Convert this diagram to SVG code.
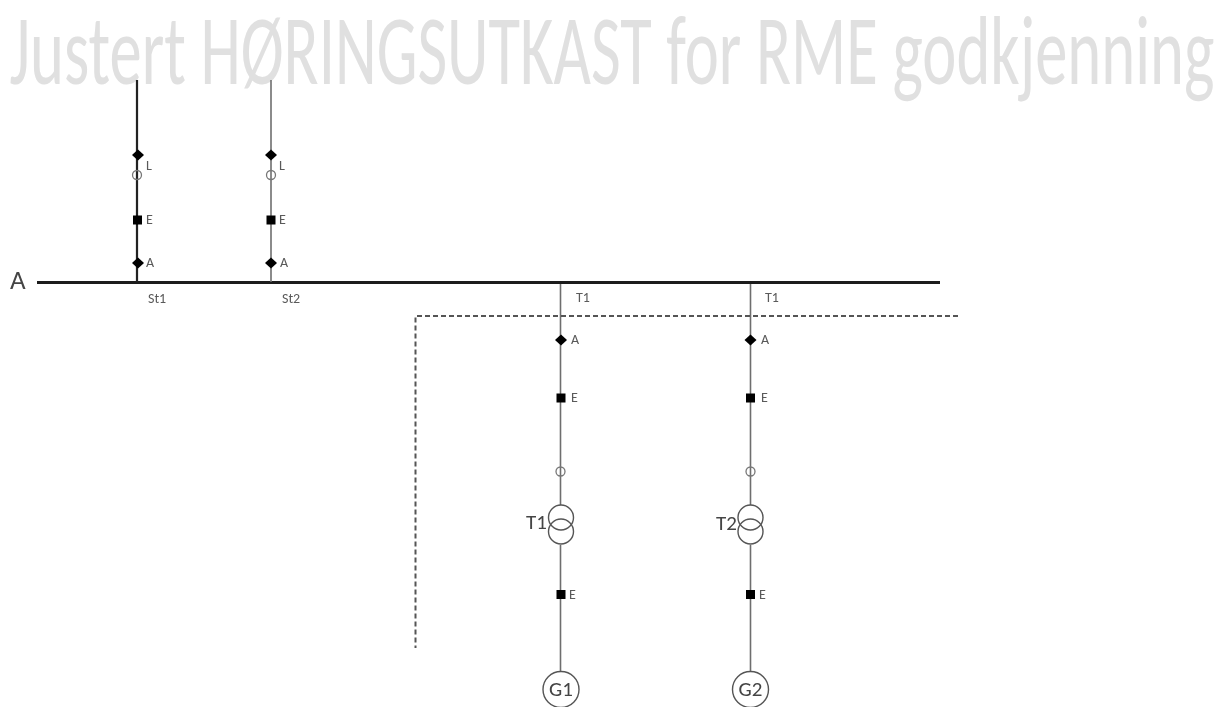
<svg xmlns="http://www.w3.org/2000/svg" width="1215" height="707" viewBox="0 0 1215 707">
<defs>
<style>
text{font-family:"Carlito","Open Sans","Noto Sans",sans-serif;fill:#5a5a5a}
.s{font-size:14px}
.m{font-size:21px;fill:#444}
.b{font-size:27px;fill:#444}
.w{font-size:98px;fill:#e0e0e0}
.l{fill:none;stroke:#6e6e6e;stroke-width:1.6}
.ld{fill:none;stroke:#222;stroke-width:2.2}
.o{fill:none;stroke:#777;stroke-width:1.3}
.t{fill:none;stroke:#555;stroke-width:1.4}
.k{fill:#000}
</style>
<filter id="soft" x="-2%" y="-2%" width="104%" height="104%"><feGaussianBlur stdDeviation="0.55"/></filter>
<path id="d" class="k" d="M-6 0L0-5.500L6 0L0 5.500Z"/>
<rect id="q" class="k" x="-4.500" y="-4.500" width="9" height="9"/>
</defs>
<rect width="1215" height="707" fill="#fff"/>
<text id="watermark" class="w" transform="translate(9.500 84) scale(.657 1)" textLength="1834" lengthAdjust="spacingAndGlyphs">Justert HØRINGSUTKAST for RME godkjenning</text>
<g filter="url(#soft)">
<g id="connectors">
<path d="M37 282.500H940" fill="none" stroke="#1e1e1e" stroke-width="3"/>
<path class="ld" d="M137 80V282"/>
<path class="l" d="M271 80V282"/>
<path class="l" d="M560.500 284V505M560.500 545V672"/>
<path class="l" d="M750.500 284V505M750.500 545V672"/>
<path fill="none" stroke="#555" stroke-width="2" stroke-dasharray="5 3" d="M958 316H415.500V648"/>
</g>
<g id="St1">
<use href="#d" x="138" y="155"/><circle class="o" cx="137" cy="175" r="4.500"/>
<use href="#q" x="137.500" y="220"/><use href="#d" x="138" y="263"/>
<text class="s" x="146" y="170">L</text><text class="s" x="146" y="224">E</text><text class="s" x="146" y="267">A</text>
<text class="s" x="148" y="303">St1</text>
</g>
<g id="St2">
<use href="#d" x="271" y="155"/><circle class="o" cx="271" cy="175" r="4.500"/>
<use href="#q" x="271" y="220"/><use href="#d" x="271" y="263"/>
<text class="s" x="279" y="170">L</text><text class="s" x="279" y="224">E</text><text class="s" x="280" y="267">A</text>
<text class="s" x="282" y="303">St2</text>
</g>
<g id="BusA"><text class="b" x="10" y="289">A</text></g>
<g id="Feeder1">
<text class="s" x="576" y="302">T1</text>
<use href="#d" x="561" y="340"/><use href="#q" x="561" y="398"/>
<text class="s" x="571" y="344">A</text><text class="s" x="571" y="402">E</text>
<circle class="o" cx="560.500" cy="471.500" r="4.500"/>
</g>
<g id="Feeder2">
<text class="s" x="765" y="302">T1</text>
<use href="#d" x="750.500" y="340"/><use href="#q" x="750.500" y="398"/>
<text class="s" x="761" y="344">A</text><text class="s" x="761" y="402">E</text>
<circle class="o" cx="750.500" cy="471.500" r="4.500"/>
</g>
<g id="T1">
<circle class="t" cx="561" cy="517.500" r="12.500"/><circle class="t" cx="561" cy="531.500" r="12.500"/>
<text class="m" x="526" y="529">T1</text>
</g>
<g id="T2">
<circle class="t" cx="750.500" cy="517.500" r="12.500"/><circle class="t" cx="750.500" cy="531.500" r="12.500"/>
<text class="m" x="716" y="530">T2</text>
</g>
<g id="E1"><use href="#q" x="561" y="594.500"/><text class="s" x="569" y="599">E</text></g>
<g id="E2"><use href="#q" x="750.500" y="594.500"/><text class="s" x="759" y="599">E</text></g>
<g id="G1"><circle class="t" cx="561" cy="689.500" r="18"/><text class="m" x="561" y="696" text-anchor="middle">G1</text></g>
<g id="G2"><circle class="t" cx="750.500" cy="689.500" r="18"/><text class="m" x="750.500" y="696" text-anchor="middle">G2</text></g>
</g>
</svg>
